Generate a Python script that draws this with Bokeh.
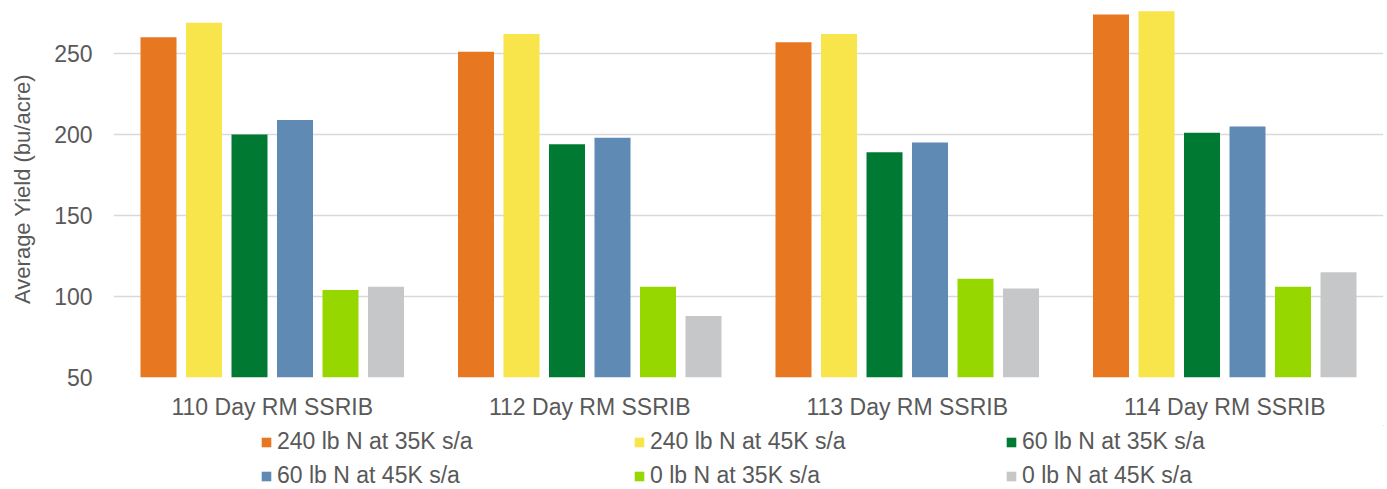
from bokeh.plotting import figure
from bokeh.models import FactorRange, Range1d, Legend, LegendItem, ColumnDataSource
from bokeh.layouts import column
from bokeh.transform import dodge
from bokeh.embed import file_html
from bokeh.resources import INLINE

groups = ["110 Day RM SSRIB", "112 Day RM SSRIB", "113 Day RM SSRIB", "114 Day RM SSRIB"]
series_names = ["240 lb N at 35K s/a", "240 lb N at 45K s/a", "60 lb N at 35K s/a",
                "60 lb N at 45K s/a", "0 lb N at 35K s/a", "0 lb N at 45K s/a"]
n240_35k = [260, 251, 257, 274]
n240_45k = [269, 262, 262, 276]
n60_35k = [200, 194, 189, 201]
n60_45k = [209, 198, 195, 205]
n0_35k = [104, 106, 111, 106]
n0_45k = [106, 88, 105, 115]
colors = ["#E87722", "#F8E44B", "#007A33", "#5F8AB4", "#97D700", "#C6C7C8"]
y_ticks = [50, 100, 150, 200, 250]

values = [n240_35k, n240_45k, n60_35k, n60_45k, n0_35k, n0_45k]
keys = ["s0", "s1", "s2", "s3", "s4", "s5"]
data = {"group": groups}
for k, v in zip(keys, values):
    data[k] = v
source = ColumnDataSource(data)

FONT = "Liberation Sans"
TXT = "#595959"
W = 1387

p = figure(x_range=FactorRange(factors=groups, range_padding=0),
           y_range=Range1d(50, 282.7),
           width=W, height=425, output_backend="svg", toolbar_location=None,
           min_border_left=113, min_border_right=4, min_border_top=0, min_border_bottom=48)
p.outline_line_color = None
p.background_fill_color = "white"
p.border_fill_color = "white"

step = 0.1433
bw = 0.1134
for i, k in enumerate(keys):
    p.vbar(x=dodge("group", (i - 2.5) * step, range=p.x_range), top=k, bottom=0,
           width=bw, source=source, fill_color=colors[i], line_color=None)

p.xgrid.grid_line_color = None
p.ygrid.grid_line_color = "#D9D9D9"
p.ygrid.grid_line_width = 1.3
p.yaxis.ticker = y_ticks

for ax in (p.xaxis[0], p.yaxis[0]):
    ax.axis_line_color = None
    ax.major_tick_line_color = None
    ax.minor_tick_line_color = None
    ax.major_label_text_font = FONT
    ax.major_label_text_font_size = "23px"
    ax.major_label_text_color = TXT
    ax.axis_label_text_font = FONT
    ax.axis_label_text_font_size = "22px"
    ax.axis_label_text_font_style = "normal"
    ax.axis_label_text_color = TXT

p.yaxis.axis_label = "Average Yield (bu/acre)"
p.yaxis.major_label_standoff = 15
p.yaxis.axis_label_standoff = 16
p.xaxis.major_label_standoff = 10

# legend strip below the chart
lg = figure(width=W, height=64, output_backend="svg", toolbar_location=None,
            x_range=Range1d(0, 1), y_range=Range1d(0, 1),
            min_border_left=113, min_border_right=4, min_border_top=0, min_border_bottom=0)
lg.outline_line_color = None
lg.axis.visible = False
lg.grid.grid_line_color = None
lg.border_fill_color = "white"

# swatch renderers kept outside the visible range; only their legend glyphs show
swatch = ColumnDataSource(dict(x=[10], top=[10]))
leg_r = []
for i in range(6):
    leg_r.append(lg.vbar(x="x", top="top", bottom=9, width=0.1, source=swatch,
                         fill_color=colors[i], line_color=None))

cols = [(0, 3, 147), (1, 4, 520), (2, 5, 892)]
for a, b, xloc in cols:
    items = [LegendItem(label=series_names[a], renderers=[leg_r[a]]),
             LegendItem(label=series_names[b], renderers=[leg_r[b]])]
    leg = Legend(items=items, location=(xloc, 0), orientation="vertical",
                 glyph_width=12, glyph_height=12, label_standoff=5,
                 label_text_font=FONT, label_text_font_size="23px", label_text_color=TXT,
                 label_height=24, spacing=7, padding=0, margin=0,
                 border_line_color=None, background_fill_alpha=0)
    lg.add_layout(leg, "center")

layout = column(p, lg, spacing=0)
open("out.html", "w").write(file_html(layout, INLINE))
